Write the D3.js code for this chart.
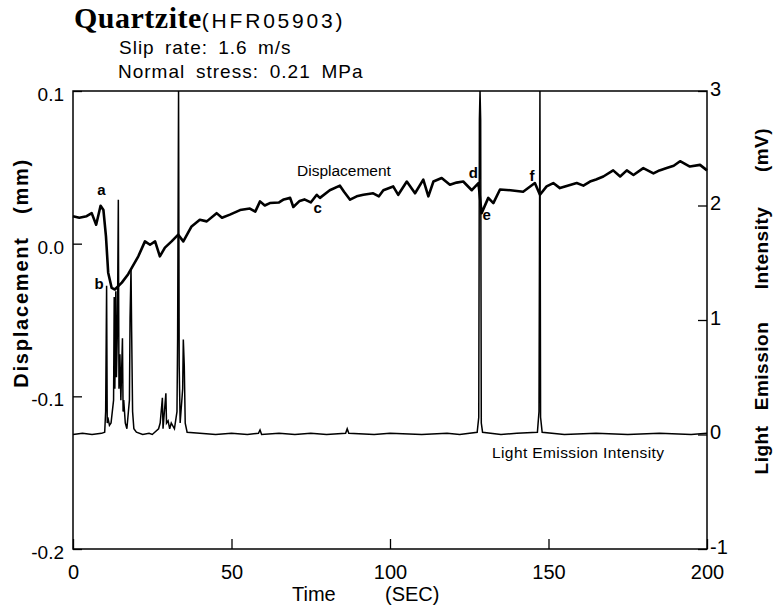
<!DOCTYPE html>
<html>
<head>
<meta charset="utf-8">
<script src="https://cdn.jsdelivr.net/npm/d3@7"></script>
<style>
  body { margin: 0; background: #fff; }
  svg { display: block; font-family: "Liberation Sans", Arial, sans-serif; }
</style>
</head>
<body>
<div class="chart-container"></div>
<script>
// displacement trace (time in s, displacement in mm)
const dispTimes = [0, 2, 4.3, 5.9, 7.3, 8.7, 9.6, 10.4, 11.1, 12.2, 13.2, 15.4, 17.4, 20.6, 22.7, 24.3, 25.9, 27.4, 29, 31.1,
  33.2, 34.8, 37.4, 40, 42.2, 45.3, 47, 49.5, 52.7, 55.8, 57.5, 59, 60.5, 62.1, 65, 66.5, 68.5, 69.5, 71.5, 73, 75, 76.9, 77.9, 81, 84.2, 85.5, 87.4,
  89.5, 91.6, 94.7, 96.5, 97.9, 101, 102.6, 105.3, 107.9, 110.5, 112.1, 113.7, 116.3, 118.9, 121, 123.1, 125.8, 127.9, 128.9, 131, 132.6, 134.7, 138,
  142, 145.7, 147.3, 149.4, 151.5, 153.6, 156, 158.9, 161, 163.1, 165, 167.3, 170.4, 172.6, 174.7, 176.8, 179.9, 183.1, 185, 187.3, 189.5, 191.5, 194.6, 197.8, 200]
const dispValues = [0.018, 0.017, 0.018, 0.020, 0.0124, 0.0248, 0.022, 0.0048, -0.019, -0.029, -0.030, -0.0255, -0.020, -0.0083, 0.0015, -0.0007, 0.0015, -0.0083, -0.0026, 0.0015,
  0.0059, 0.0015, 0.0113, 0.0157, 0.0146, 0.020, 0.017, 0.019, 0.022, 0.023, 0.021, 0.0277, 0.025, 0.0266, 0.027, 0.029, 0.030, 0.024, 0.028, 0.029, 0.027, 0.032, 0.030, 0.035, 0.038, 0.034, 0.0288,
  0.031, 0.032, 0.033, 0.031, 0.035, 0.0375, 0.032, 0.0407, 0.033, 0.042, 0.031, 0.0407, 0.043, 0.0386, 0.040, 0.0407, 0.035, 0.0397, 0.020, 0.030, 0.0266, 0.0355, 0.035,
  0.034, 0.0397, 0.032, 0.0375, 0.0397, 0.0364, 0.038, 0.0397, 0.038, 0.0407, 0.042, 0.044, 0.048, 0.044, 0.048, 0.045, 0.0495, 0.046, 0.048, 0.0495, 0.051, 0.054, 0.0505, 0.0516, 0.048]

// light emission trace (time in s, intensity in mV)
const lightTimes = [0, 3, 6, 9, 10, 10.3, 10.6, 10.8, 11, 11.5, 12, 12.8, 13.0, 13.2, 13.5, 13.7, 14.0, 14.3, 14.5, 14.8,
  15.1, 15.6, 15.8, 16, 16.5, 17, 17.8, 18.0, 18.3, 18.5, 18.8, 19.2, 20, 22, 24, 25, 27, 27.5, 28.2, 28.4,
  29.3, 29.5, 30, 30.5, 31, 32, 32.8, 33.0, 33.3, 33.5, 33.8, 34.6, 34.8, 35.1, 35.4, 36, 40, 45, 50, 55,
  58.5, 59, 59.5, 65, 70, 75, 80, 86, 86.5, 87, 95, 100, 110, 118, 122, 127.5, 128.0, 128.2, 128.4, 128.6,
  128.8, 129.2, 135, 140, 146.5, 147.0, 147.3, 147.5, 148, 155, 165, 175, 185, 195, 200]
const lightValues = [0, 0.01, 0, 0.01, 0.02, 0.2, 1.3, 0.1, 0.15, 0.08, 0.1, 0.3, 1.2, 0.4, 1.25, 0.5, 0.9, 2.05, 0.4, 0.7,
  0.3, 0.84, 0.2, 0.3, 0.1, 0.05, 0.3, 1.02, 1.45, 0.9, 0.2, 0.05, 0.02, 0, 0.01, 0, 0.05, 0.1, 0.32, 0.05,
  0.36, 0.1, 0.12, 0.05, 0.1, 0.05, 0.2, 0.83, 3.0, 0.6, 0.1, 0.4, 0.83, 0.6, 0.1, 0.02, 0.01, 0, 0.01, 0,
  0.01, 0.04, 0, 0.01, 0, 0.01, 0, 0.01, 0.05, 0.01, 0, 0.01, 0, 0.01, 0, 0.02, 0.15, 2.75, 3.0, 2.75,
  0.1, 0.02, 0, 0.01, 0.02, 0.2, 3.0, 0.15, 0.02, 0, 0.01, 0, 0.01, 0, 0.01]

const timeTicks = [0, 50, 100, 150, 200]
const dispTicks = [0.1, 0.0, -0.1, -0.2]
const lightTicks = [3, 2, 1, 0, -1]

// point labels a..f
const markNames = ['a', 'b', 'c', 'd', 'e', 'f']
const markTimes = [9.0, 8.2, 77.2, 126.3, 130.5, 144.8]
const markValues = [0.032, -0.030, 0.020, 0.043, 0.0155, 0.041]

const width = 774
const height = 605
const plot = { left: 73, right: 707, top: 91, bottom: 549 }

const svg = d3.select('.chart-container')
  .append('svg')
  .attr('width', width)
  .attr('height', height)

const x = d3.scaleLinear().domain([0, 200]).range([plot.left, plot.right])
const yDisp = d3.scaleLinear().domain([-0.2, 0.1]).range([plot.bottom, plot.top])
const yLight = d3.scaleLinear().domain([-1, 3]).range([plot.bottom, plot.top])

// axes, ticks pointing inward
const xAxis = svg.append('g')
  .attr('transform', `translate(0,${plot.bottom})`)
  .call(d3.axisBottom(x).tickValues(timeTicks).tickSize(-10).tickPadding(16).tickFormat((d) => String(d)))
const leftAxis = svg.append('g')
  .attr('transform', `translate(${plot.left},0)`)
  .call(d3.axisLeft(yDisp).tickValues(dispTicks).tickSize(-9).tickPadding(9).tickFormat((d) => d.toFixed(1)))
const rightAxis = svg.append('g')
  .attr('transform', `translate(${plot.right},0)`)
  .call(d3.axisRight(yLight).tickValues(lightTicks).tickSize(-9).tickPadding(3).tickFormat((d) => String(d)))

;[xAxis, leftAxis, rightAxis].forEach((a) => {
  a.select('.domain').remove()
  a.selectAll('.tick line').attr('stroke', '#000').attr('stroke-width', 1.3)
  a.selectAll('.tick text').attr('fill', '#000').attr('font-size', 20)
})
leftAxis.selectAll('.tick text').attr('font-size', 19).attr('dy', '0.5em')
rightAxis.selectAll('.tick text').attr('dy', '0.2em')

// frame
svg.append('rect')
  .attr('x', plot.left).attr('y', plot.top)
  .attr('width', plot.right - plot.left).attr('height', plot.bottom - plot.top)
  .attr('fill', 'none').attr('stroke', '#000').attr('stroke-width', 1.5)

const lightLine = d3.line()
  .x((d, i) => x(lightTimes[i]))
  .y((d) => yLight(d))
svg.append('path')
  .datum(lightValues)
  .attr('fill', 'none')
  .attr('stroke', '#000')
  .attr('stroke-width', 1.5)
  .attr('d', lightLine)

const dispLine = d3.line()
  .x((d, i) => x(dispTimes[i]))
  .y((d) => yDisp(d))
svg.append('path')
  .datum(dispValues)
  .attr('fill', 'none')
  .attr('stroke', '#000')
  .attr('stroke-width', 2.6)
  .attr('stroke-linejoin', 'round')
  .attr('d', dispLine)

svg.selectAll('.mark')
  .data(markNames)
  .enter()
  .append('text')
  .attr('class', 'mark')
  .attr('x', (d, i) => x(markTimes[i]))
  .attr('y', (d, i) => yDisp(markValues[i]))
  .attr('font-size', 15)
  .attr('font-weight', 'bold')
  .attr('text-anchor', 'middle')
  .text((d) => d)

// in-plot captions
svg.append('text').attr('x', 297).attr('y', 176).attr('font-size', 15.5).text('Displacement')
svg.append('text').attr('x', 492).attr('y', 458).attr('font-size', 15.5).attr('letter-spacing', 0.4).text('Light Emission Intensity')

// titles
svg.append('text').attr('x', 74).attr('y', 28)
  .call((t) => {
    t.append('tspan').attr('font-family', '"Liberation Serif", "Times New Roman", serif')
      .attr('font-weight', 'bold').attr('font-size', 30).attr('letter-spacing', 0.5).text('Quartzite')
    t.append('tspan').attr('font-size', 21).attr('letter-spacing', 2.8).text('(HFR05903)')
  })
svg.append('text').attr('x', 119).attr('y', 54).attr('font-size', 19).attr('letter-spacing', 1)
  .attr('word-spacing', 4).text('Slip rate: 1.6 m/s')
svg.append('text').attr('x', 118).attr('y', 78).attr('font-size', 19).attr('letter-spacing', 1)
  .attr('word-spacing', 4.5).text('Normal stress: 0.21 MPa')

// axis titles
svg.append('text').attr('x', 292).attr('y', 601).attr('font-size', 20).text('Time')
svg.append('text').attr('x', 385).attr('y', 601).attr('font-size', 20).text('(SEC)')

const leftTitle = [['Displacement', 312], ['(mm)', 186]]
leftTitle.forEach(([word, cy]) => {
  svg.append('text')
    .attr('transform', `translate(28,${cy}) rotate(-90)`)
    .attr('text-anchor', 'middle').attr('font-size', 20).attr('font-weight', 'bold').attr('letter-spacing', 1.8)
    .text(word)
})
const rightTitle = [['Light', 450], ['Emission', 366], ['Intensity', 248], ['(mV)', 150]]
rightTitle.forEach(([word, cy]) => {
  svg.append('text')
    .attr('transform', `translate(768,${cy}) rotate(-90)`)
    .attr('text-anchor', 'middle').attr('font-size', 19).attr('font-weight', 'bold').attr('letter-spacing', 0.5)
    .text(word)
})
</script>
</body>
</html>
